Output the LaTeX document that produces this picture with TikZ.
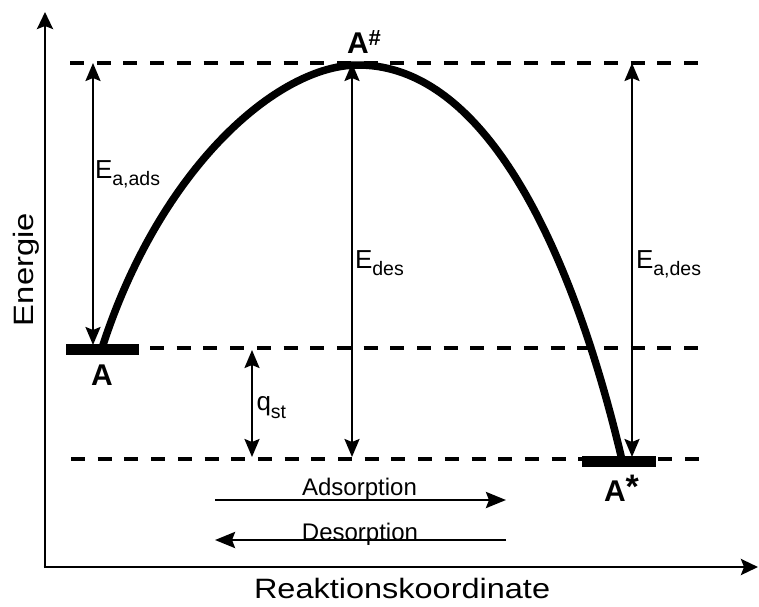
\documentclass[tikz,border=0pt]{standalone}
\usepackage{fontspec}
\setmainfont{Liberation Sans}
\newfontfamily\widefont[FakeStretch=1.16]{Liberation Sans}
\newfontfamily\enfont[FakeStretch=1.17]{Liberation Sans}
\usetikzlibrary{arrows.meta}
\newcommand{\fs}[1]{\fontsize{#1}{#1}\selectfont}
\newcommand{\Elbl}[1]{{\fs{26}E}\raisebox{-7pt}{\fs{19.5}#1}}
\begin{document}
\begin{tikzpicture}[x=1pt,y=-1pt,
  lbl/.style={inner sep=0pt, outer sep=0pt, anchor=base west},
  dline/.style={line width=3.2pt, dash pattern=on 14pt off 12.7pt},
  varrow/.style={line width=2.3pt, {Stealth[length=18pt,width=15pt,inset=3pt]}-{Stealth[length=18pt,width=15pt,inset=3pt]}},
  harrow/.style={line width=2.8pt, -{Stealth[length=20pt,width=16pt,inset=3pt]}},
  axis/.style={line width=2.8pt, -{Stealth[length=17pt,width=16pt,inset=3pt]}},
  bar/.style={fill=black, inner sep=0pt, minimum height=11pt},
  curve/.style={line width=7.5pt, line join=round}
]
\useasboundingbox[fill=white] (0,0) rectangle (759,606);

% axes
\coordinate (O) at (45,568);
\coordinate (Ytop) at (45,12);
\coordinate (Xend) at (758,567);
\draw[axis] (O) -- (Ytop);
\draw[axis] (43.6,567) -- (Xend);

% dashed levels
\coordinate (t0) at (70,63);   \coordinate (t1) at (708,63);
\coordinate (m0) at (150,348); \coordinate (m1) at (708,348);
\coordinate (b0) at (71,459);  \coordinate (b1) at (708,459);
\draw[dline] (t0) -- (t1);
\draw[dline] (m0) -- (m1);
\draw[dline] (b0) -- (b1);

% bars
\node[bar, minimum width=73pt] (barA) at (102.5,349.5) {};
\node[bar, minimum width=74pt] (barS) at (619,461.5) {};

% energy curve
\coordinate (cA) at (102,348);
\coordinate (peak) at (358,65);
\coordinate (cS) at (622,460);
\draw[curve] (cA) .. controls (160.3,167.1) and (278,65) .. (peak)
                  .. controls (505,65) and (586,307) .. (cS);

% vertical arrows
\coordinate (e1a) at (93,63);   \coordinate (e1b) at (93,345);
\coordinate (e2a) at (352,63);  \coordinate (e2b) at (352,457);
\coordinate (e3a) at (632,63);  \coordinate (e3b) at (632,457);
\coordinate (q1) at (252,350);  \coordinate (q2) at (252,457);
\draw[varrow] (e1a) -- (e1b);
\draw[varrow] (e2a) -- (e2b);
\draw[varrow] (e3a) -- (e3b);
\draw[varrow] (q1) -- (q2);

% horizontal arrows
\coordinate (ad0) at (215,500); \coordinate (ad1) at (506,500);
\coordinate (de0) at (506,540); \coordinate (de1) at (215,540);
\draw[harrow] (ad0) -- (ad1);
\draw[harrow] (de0) -- (de1);

% labels
\node[lbl] (LEads) at (95,178) {\Elbl{a,ads}};
\node[lbl] (LEdes) at (355,268) {\Elbl{des}};
\node[lbl] (LEades) at (636,268) {\Elbl{a,des}};
\node[lbl] (Lq) at (256.5,410) {{\fs{26}q}\raisebox{-8pt}{\fs{19.5}st}};
\node[lbl] (LA) at (91,385) {\fs{30}\bfseries A};
\node[lbl] (LAh) at (347,53) {\fs{30}\bfseries A\raisebox{8pt}{\fs{22}\#}};
\node[lbl] (LAs) at (604,501) {\fs{30}\bfseries A\raisebox{3pt}{\fs{34}*}};
\node[inner sep=0pt, anchor=base] (Lad) at (359.5,495) {\fs{24}Adsorption};
\node[inner sep=0pt, anchor=base] (Lde) at (360,540) {\fs{24}Desorption};
\node[lbl] (Lx) at (254,598) {\widefont\fs{28}Reaktionskoordinate};
\node[lbl, rotate=90] (Ly) at (33,326) {\enfont\fs{28}Energie};
\end{tikzpicture}
\end{document}
